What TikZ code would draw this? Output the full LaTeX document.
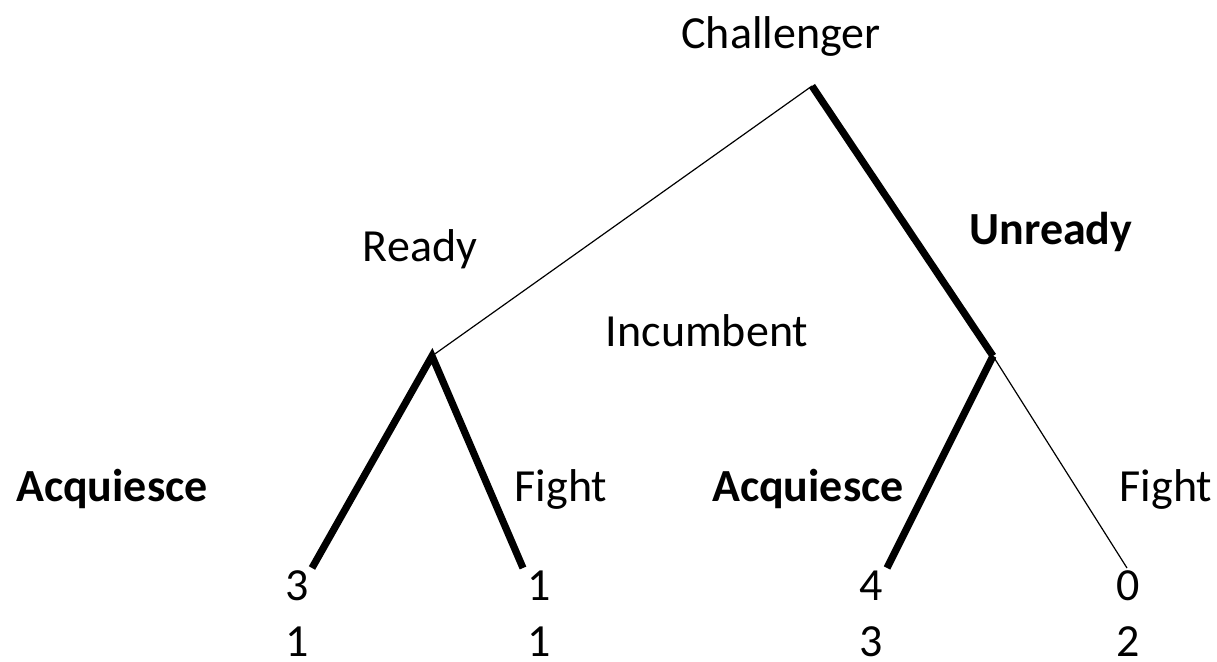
\documentclass[tikz,border=0pt]{standalone}
\usepackage{fontspec}
\setmainfont{Carlito}
\usetikzlibrary{positioning, calc}

\begin{document}
\begin{tikzpicture}[
    x=0.5pt, y=-0.5pt,
    % Define styles for labels and branches
    lbl/.style={font=\fontsize{23}{27}\selectfont, inner sep=0pt, anchor=base},
    bold_lbl/.style={lbl, font=\fontsize{23}{27}\selectfont\bfseries},
    pay_lbl/.style={lbl, text depth=0pt},
    thin_edge/.style={line width=0.6pt},
    thick_edge/.style={line width=3.6pt, line join=miter}
]
    \useasboundingbox (0,0) rectangle (1217,662);

    % --- Decision nodes ---
    \coordinate (root) at (812,86);
    \coordinate (inc_l) at (432,356);
    \coordinate (inc_r) at (993,356);

    % --- Terminal nodes ---
    \coordinate (leaf_1) at (312,568);
    \coordinate (leaf_2) at (523,568);
    \coordinate (leaf_3) at (887,568);
    \coordinate (leaf_4) at (1127,568);

    % --- Branches ---
    \draw[thin_edge] (root) -- (inc_l);
    \draw[thick_edge] (root) -- (inc_r);
    \draw[thick_edge] (leaf_1) -- (inc_l) -- (leaf_2);
    \draw[thick_edge] (inc_r) -- (leaf_3);
    \draw[thin_edge] (inc_r) -- (leaf_4);

    % --- Players and actions ---
    \node[lbl] (chal) at (781,49) {Challenger};
    \node[lbl] (inc) at (707,347) {Incumbent};
    \node[lbl] (ready) at (420,262) {Ready};
    \node[bold_lbl] (unready) at (1051,245) {Unready};
    \node[bold_lbl] (acq_l) at (112,502) {Acquiesce};
    \node[lbl] (fight_l) at (561,502) {Fight};
    \node[bold_lbl] (acq_r) at (808,502) {Acquiesce};
    \node[lbl] (fight_r) at (1166,502) {Fight};

    % --- Payoffs ---
    \node[pay_lbl] (p1a) at (297,601) {3};
    \node[pay_lbl] (p1b) at (297,657) {1};
    \node[pay_lbl] (p2a) at (539,601) {1};
    \node[pay_lbl] (p2b) at (539,657) {1};
    \node[pay_lbl] (p3a) at (871,601) {4};
    \node[pay_lbl] (p3b) at (871,657) {3};
    \node[pay_lbl] (p4a) at (1128,601) {0};
    \node[pay_lbl] (p4b) at (1128,657) {2};

\end{tikzpicture}
\end{document}
